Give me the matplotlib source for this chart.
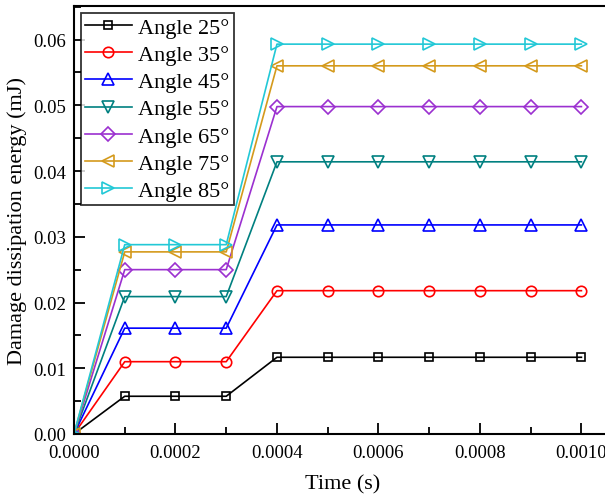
import matplotlib
matplotlib.use('Agg')
import matplotlib.pyplot as plt
from matplotlib.ticker import MultipleLocator

plt.rcParams['font.family'] = ['Liberation Serif', 'DejaVu Serif']

time = [0.0, 0.0001, 0.0002, 0.0003, 0.0004, 0.0005, 0.0006, 0.0007, 0.0008, 0.0009, 0.0010]

labels = ['Angle 25°', 'Angle 35°', 'Angle 45°', 'Angle 55°', 'Angle 65°', 'Angle 75°', 'Angle 85°']

# energy values
e25 = [0, 0.00574, 0.00574, 0.00574, 0.01167, 0.01167, 0.01167, 0.01167, 0.01167, 0.01167, 0.01167]
e35 = [0, 0.0110, 0.0110, 0.0110, 0.0218, 0.0218, 0.0218, 0.0218, 0.0218, 0.0218, 0.0218]
e45 = [0, 0.0161, 0.0161, 0.0161, 0.0318, 0.0318, 0.0318, 0.0318, 0.0318, 0.0318, 0.0318]
e55 = [0, 0.0209, 0.0209, 0.0209, 0.0414, 0.0414, 0.0414, 0.0414, 0.0414, 0.0414, 0.0414]
e65 = [0, 0.0250, 0.0250, 0.0250, 0.0498, 0.0498, 0.0498, 0.0498, 0.0498, 0.0498, 0.0498]
e75 = [0, 0.0277, 0.0277, 0.0277, 0.0560, 0.0560, 0.0560, 0.0560, 0.0560, 0.0560, 0.0560]
e85 = [0, 0.0288, 0.0288, 0.0288, 0.0593, 0.0593, 0.0593, 0.0593, 0.0593, 0.0593, 0.0593]

series = [e25, e35, e45, e55, e65, e75, e85]
colors = ['black', '#FF0000', '#0000FF', '#008080', '#9B30D0', '#D49A1C', '#22C8D6']
markers = ['s', 'o', '^', 'v', 'D', '<', '>']
sizes = [6, 7.5, 8, 8, 7, 8, 8]

fig = plt.figure(figsize=(6.05, 5.02), dpi=100)
ax = fig.add_axes([74 / 605, 67 / 502, 0.889, 428 / 502])

for y, c, m, s, lab in zip(series, colors, markers, sizes, labels):
    ax.plot(time, y, color=c, marker=m, markersize=s, markerfacecolor='none',
            markeredgecolor=c, markeredgewidth=1.2, linewidth=1.2, label=lab)

ax.set_xlim(0, 0.00106)
ax.set_ylim(0, 0.0651)
ax.xaxis.set_major_locator(MultipleLocator(0.0002))
ax.xaxis.set_minor_locator(MultipleLocator(0.0001))
ax.yaxis.set_major_locator(MultipleLocator(0.01))
ax.yaxis.set_minor_locator(MultipleLocator(0.005))
ax.xaxis.set_major_formatter(plt.FormatStrFormatter('%.4f'))
ax.yaxis.set_major_formatter(plt.FormatStrFormatter('%.2f'))
ax.tick_params(which='both', direction='in', top=False, right=False, labelsize=13.5, width=1.3)
ax.tick_params(which='major', length=8)
ax.tick_params(which='minor', length=5)
ax.tick_params(axis='x', which='major', pad=7)
ax.tick_params(axis='y', which='major', pad=6)
for sp in ax.spines.values():
    sp.set_linewidth(1.5)

ax.set_xlabel('Time (s)', fontsize=16, labelpad=10)
ax.set_ylabel('Damage dissipation energy (mJ)', fontsize=16, labelpad=4)

leg = ax.legend(loc='upper left', fontsize=16, frameon=True, fancybox=False,
                edgecolor='black', labelspacing=0.3, handlelength=2.1,
                handletextpad=0.3, borderpad=0.2, borderaxespad=0.3)
leg.get_frame().set_linewidth(1.3)

fig.savefig('out.png', dpi=100)
